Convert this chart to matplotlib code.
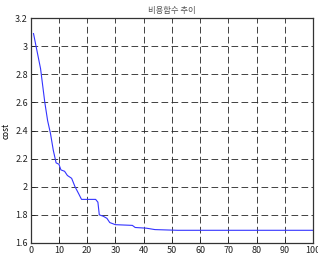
import numpy as np
import matplotlib
matplotlib.use('Agg')
import matplotlib.pyplot as plt

plt.rcParams['font.family'] = ['Noto Sans CJK KR', 'DejaVu Sans']

# cost per generation
generation = [1, 2, 3.5, 5, 6, 7, 8, 9, 10, 10.7, 12, 13, 14.5, 15.7, 17, 18,
              23, 23.8, 24.3, 25.7, 27, 28, 30, 36, 37, 41, 44, 52, 100]
cost = [3.09, 2.99, 2.84, 2.60, 2.47, 2.38, 2.26, 2.17, 2.16, 2.12, 2.11, 2.08,
        2.06, 2.00, 1.95, 1.91, 1.91, 1.89, 1.80, 1.79, 1.775, 1.745, 1.73,
        1.725, 1.71, 1.705, 1.695, 1.69, 1.69]
xticks = np.arange(0, 101, 10)
yticks = [1.6, 1.8, 2.0, 2.2, 2.4, 2.6, 2.8, 3.0, 3.2]
ytick_labels = ['1.6', '1.8', '2', '2.2', '2.4', '2.6', '2.8', '3', '3.2']

fig = plt.figure(figsize=(3.18, 2.59), dpi=100)
ax = fig.add_axes([0.0965, 0.062, 0.888, 0.868])
ax.plot(generation, cost, color='#3333ff', lw=0.8)

ax.set_xlim(0, 100)
ax.set_ylim(1.6, 3.2)
ax.set_xticks(xticks)
ax.set_yticks(yticks)
ax.set_yticklabels(ytick_labels)
ax.tick_params(direction='in', labelsize=6.5, length=3, width=0.6, pad=2,
               colors='#222222')
ax.grid(True, color='#222222', linestyle=(0, (8, 4)), linewidth=0.6)
for s in ax.spines.values():
    s.set_linewidth(0.9)
    s.set_color('#333333')

ax.set_title('비용함수 추이', fontsize=6, color='#555555', pad=4)
ax.set_ylabel('cost', fontsize=6, labelpad=3)
ax.set_xlabel('세대', fontsize=6, labelpad=3)

fig.savefig('out.png', dpi=100)
